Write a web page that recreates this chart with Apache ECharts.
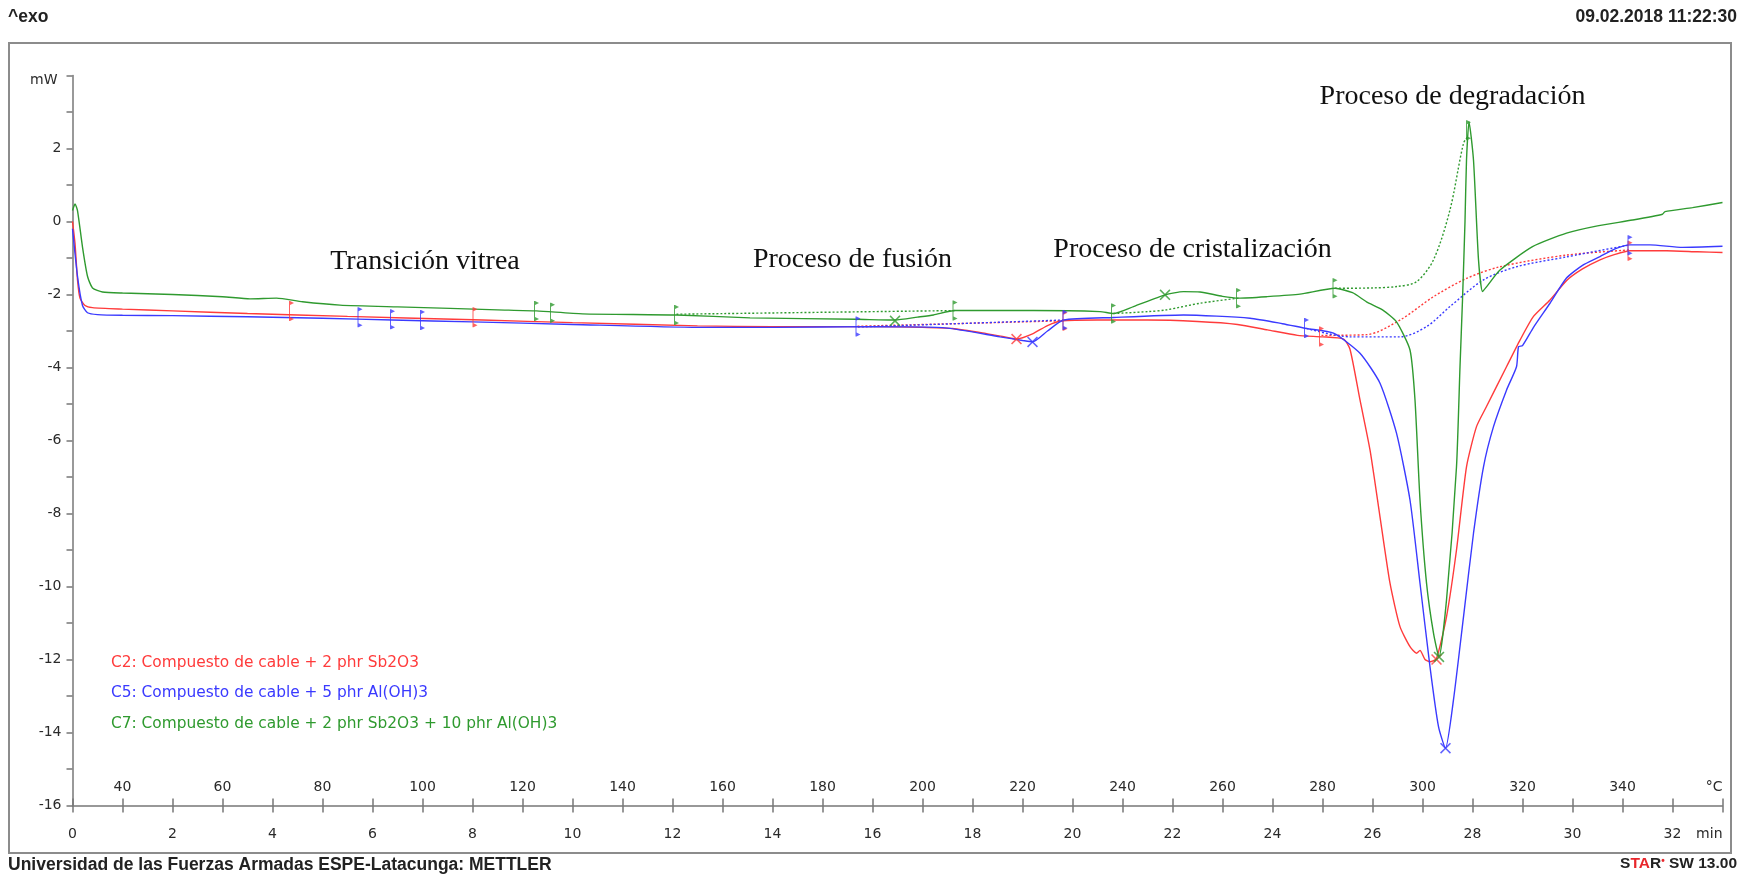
<!DOCTYPE html>
<html>
<head>
<meta charset="utf-8">
<script src="https://cdn.jsdelivr.net/npm/echarts@6/dist/echarts.min.js"></script>
<style>html,body{margin:0;padding:0;background:#fff;}#chart{width:1749px;height:879px;}</style>
</head>
<body>
<div id="chart"></div>
<script>
// ---- DATA (time in min, heat flow in mW) ----
const seriesNames = [
  'C2: Compuesto de cable + 2 phr Sb2O3',
  'C5: Compuesto de cable + 5 phr Al(OH)3',
  'C7: Compuesto de cable + 2 phr Sb2O3 + 10 phr Al(OH)3'
];
const c2Curve = [[0,0.0],[0.05,-0.6],[0.1,-1.6],[0.15,-2.1],[0.25,-2.3],[0.4,-2.36],[1,-2.4],[2,-2.45],[3.5,-2.52],[5.5,-2.6],[8.2,-2.7],[10,-2.77],[12.5,-2.86],[14,-2.88],[16,-2.88],[17,-2.9],[17.6,-2.93],[18.2,-3.05],[18.6,-3.15],[18.88,-3.22],[19.2,-3.08],[19.5,-2.85],[19.8,-2.72],[20.5,-2.7],[21.5,-2.7],[22.5,-2.74],[23.3,-2.82],[23.9,-2.97],[24.5,-3.12],[25,-3.16],[25.42,-3.22],[25.55,-3.5],[25.75,-4.89],[25.95,-6.26],[26.15,-8.09],[26.35,-9.91],[26.55,-11.1],[26.75,-11.65],[26.88,-11.83],[26.95,-11.75],[27.05,-12.0],[27.15,-12.06],[27.28,-11.97],[27.48,-10.83],[27.68,-9.0],[27.88,-6.72],[28.08,-5.62],[28.28,-5.07],[28.68,-3.98],[28.95,-3.25],[29.22,-2.6],[29.55,-2.15],[29.88,-1.62],[30.2,-1.3],[30.55,-1.05],[30.85,-0.9],[31.15,-0.8],[31.88,-0.8],[32.5,-0.83],[33,-0.85]];
const c5Curve = [[0,-0.2],[0.1,-1.5],[0.2,-2.3],[0.3,-2.5],[0.5,-2.55],[1,-2.57],[2,-2.58],[3.5,-2.61],[5,-2.65],[6.4,-2.7],[8,-2.75],[10,-2.82],[12.5,-2.9],[14,-2.9],[16,-2.88],[17.5,-2.92],[18.55,-3.16],[19.0,-3.26],[19.2,-3.3],[19.5,-3.0],[19.82,-2.7],[20.82,-2.63],[22.22,-2.56],[23.55,-2.65],[24.2,-2.8],[24.68,-2.93],[25.22,-3.06],[25.75,-3.61],[26.15,-4.43],[26.48,-5.8],[26.75,-7.63],[26.95,-9.91],[27.15,-12.2],[27.32,-13.84],[27.46,-14.43],[27.62,-13.1],[27.82,-10.83],[28.02,-8.54],[28.22,-6.72],[28.42,-5.62],[28.68,-4.62],[28.88,-3.98],[28.92,-3.43],[29.0,-3.4],[29.22,-2.9],[29.55,-2.24],[29.88,-1.55],[30.2,-1.2],[30.55,-0.96],[30.85,-0.75],[31.15,-0.64],[31.55,-0.64],[32.2,-0.71],[33,-0.68]];
const c7Curve = [[0,0.3],[0.05,0.48],[0.1,0.3],[0.2,-0.7],[0.3,-1.5],[0.4,-1.82],[0.6,-1.93],[1,-1.96],[2,-2.0],[3,-2.06],[3.55,-2.12],[4.08,-2.1],[4.6,-2.2],[5.35,-2.29],[6.5,-2.34],[7.55,-2.38],[8.5,-2.42],[9.28,-2.45],[10.2,-2.53],[12.08,-2.56],[13.55,-2.64],[15.68,-2.68],[16.45,-2.7],[16.9,-2.62],[17.22,-2.56],[17.65,-2.44],[19.22,-2.44],[20.55,-2.47],[20.82,-2.52],[21.22,-2.33],[21.85,-2.01],[22.22,-1.92],[22.55,-1.93],[23.0,-2.05],[23.32,-2.1],[23.88,-2.06],[24.55,-1.99],[25.25,-1.83],[25.6,-1.95],[25.88,-2.2],[26.2,-2.42],[26.48,-2.75],[26.75,-3.52],[26.85,-4.89],[26.95,-7.63],[27.08,-9.9],[27.22,-11.28],[27.33,-11.93],[27.48,-10.37],[27.68,-6.72],[27.75,-3.98],[27.8,-2.15],[27.85,0.0],[27.88,1.68],[27.93,2.73],[28.02,1.68],[28.12,-1.05],[28.2,-1.92],[28.28,-1.79],[28.55,-1.33],[29.2,-0.69],[29.88,-0.32],[30.5,-0.12],[31.2,0.04],[31.8,0.2],[31.85,0.27],[32.4,0.38],[33,0.52]];
// integration baselines (dotted)
const c2Baselines = [
  [[15.7,-2.87],[19.82,-2.72]],
  [[24.98,-3.12],[25.88,-3.1],[26.55,-2.7],[27.22,-2.06],[27.88,-1.56],[28.55,-1.24],[29.88,-0.92],[31.15,-0.78]]
];
const c5Baselines = [
  [[15.71,-2.89],[19.82,-2.7]],
  [[24.68,-2.93],[25.55,-3.16],[26.55,-3.16],[27.08,-2.88],[27.55,-2.33],[28.22,-1.6],[28.88,-1.24],[29.88,-0.97],[31.15,-0.64]]
];
const c7Baselines = [
  [[12.08,-2.54],[17.65,-2.44]],
  [[20.82,-2.52],[21.5,-2.47],[21.88,-2.42],[22.55,-2.24],[23.32,-2.1]],
  [[25.25,-1.83],[26.0,-1.82],[26.5,-1.78],[26.88,-1.65],[27.22,-1.05],[27.55,0.32],[27.82,2.14],[27.92,2.35]]
];
// evaluation limit flags and peak crosses
const c2Flags = [[4.38,-2.45],[8.05,-2.62],[19.85,-2.72],[24.98,-3.15],[31.15,-0.8]];
const c5Flags = [[5.75,-2.62],[6.4,-2.68],[7.0,-2.7],[15.71,-2.88],[19.85,-2.7],[24.68,-2.92],[31.15,-0.65]];
const c7Flags = [[9.28,-2.45],[9.6,-2.5],[12.08,-2.56],[17.65,-2.44],[20.82,-2.52],[23.32,-2.1],[25.25,-1.83],[27.92,2.5]];
const c2Peaks = [[18.88,-3.22],[27.28,-12.0]];
const c5Peaks = [[19.2,-3.3],[27.46,-14.43]];
const c7Peaks = [[16.45,-2.72],[21.85,-2.01],[27.33,-11.93]];
// tick labels
const minTickLabels = [0,2,4,6,8,10,12,14,16,18,20,22,24,26,28,30,32];
const tempTickMinutes = [1,3,5,7,9,11,13,15,17,19,21,23,25,27,29,31];
const tempTickLabels = [40,60,80,100,120,140,160,180,200,220,240,260,280,300,320,340];
const annotations = [
  {text:'Transición vitrea', t:7.05, v:-1.09},
  {text:'Proceso de fusión', t:15.6, v:-1.04},
  {text:'Proceso de cristalización', t:22.4, v:-0.77},
  {text:'Proceso de degradación', t:27.6, v:3.43}
];

const colors = ['#ff3b3b', '#3a3aff', '#2f9a2f'];
const tempMap = {};
tempTickMinutes.forEach((m,i)=>{ tempMap[m] = tempTickLabels[i]; });

const chart = echarts.init(document.getElementById('chart'), null, {renderer:'canvas'});
const axisFont = {fontFamily:'DejaVu Sans', fontSize:14, color:'#2a2a2a'};
const flagSym = 'path://M0,0 L1,0 L1,20 L0,20 Z M1,0 L5,2 L1,4 Z M1,16 L5,18 L1,20 Z';
const crossSym = 'path://M0,1 L1,0 L5,4 L9,0 L10,1 L6,5 L10,9 L9,10 L5,6 L1,10 L0,9 L4,5 Z';

const series = [];
const curves = [c2Curve, c5Curve, c7Curve];
const bases = [c2Baselines, c5Baselines, c7Baselines];
const flags = [c2Flags, c5Flags, c7Flags];
const peaks = [c2Peaks, c5Peaks, c7Peaks];
for (let i=0;i<3;i++){
  series.push({type:'line', name:seriesNames[i], data:curves[i], showSymbol:false, smooth:0.2,
    lineStyle:{color:colors[i], width:1.4}, z:3});
  bases[i].forEach(b=>series.push({type:'line', data:b, showSymbol:false, smooth:0.3,
    lineStyle:{color:colors[i], width:1.4, type:[2,2]}, z:2}));
  series.push({type:'scatter', data:flags[i], symbol:flagSym, symbolSize:[5,20],
    itemStyle:{color:colors[i]}, z:4});
  series.push({type:'scatter', data:peaks[i], symbol:crossSym, symbolSize:11,
    itemStyle:{color:colors[i]}, z:4});
}

const option = {
  animation:false,
  backgroundColor:'#fff',
  grid:{left:72.5, right:26.5, top:75.5, bottom:73.5, containLabel:false},
  xAxis:[
    {type:'value', min:0, max:33, interval:1, position:'bottom',
      axisLine:{show:true, onZero:false, lineStyle:{color:'#777', width:1.5}},
      axisTick:{show:true, length:7, lineStyle:{color:'#777', width:1.5}},
      splitLine:{show:false},
      axisLabel:Object.assign({margin:22, showMinLabel:true, showMaxLabel:true, alignMaxLabel:'right',
        formatter:v=> v===33 ? 'min' : (minTickLabels.indexOf(v)>=0 ? String(v) : '')}, axisFont)},
    {type:'value', min:0, max:33, interval:1, position:'bottom',
      axisLine:{show:false, onZero:false},
      axisTick:{show:true, inside:true, length:7, lineStyle:{color:'#777', width:1.5}},
      splitLine:{show:false},
      axisLabel:Object.assign({inside:true, margin:11, showMinLabel:true, showMaxLabel:true, alignMaxLabel:'right',
        formatter:v=> v===33 ? '°C' : (tempMap[v]!==undefined ? String(tempMap[v]) : '')}, axisFont)}
  ],
  yAxis:{type:'value', min:-16, max:4, interval:1,
    axisLine:{show:true, onZero:false, lineStyle:{color:'#777', width:1.5}},
    axisTick:{show:true, length:6, lineStyle:{color:'#777', width:1.5}},
    splitLine:{show:false},
    axisLabel:Object.assign({margin:11, showMinLabel:true, showMaxLabel:true,
      formatter:v=> v===4 ? '{u|mW}' : (v%2===0 ? String(v) : ''),
      rich:{u:{fontFamily:'DejaVu Sans', fontSize:14, color:'#2a2a2a', padding:[9,4,0,0]}}}, axisFont)},
  series: series
};
chart.setOption(option);

const g = [
  {type:'rect', shape:{x:9, y:43, width:1722, height:810}, style:{fill:'none', stroke:'#8c8c8c', lineWidth:2}, z:0},
  {type:'text', x:8, y:8, style:{text:'^exo', font:'bold 17.5px "Liberation Sans"', fill:'#222'}},
  {type:'text', x:1737, y:8, style:{text:'09.02.2018 11:22:30', font:'bold 17.5px "Liberation Sans"', fill:'#222', textAlign:'right'}},
  {type:'text', x:8, y:856, style:{text:'Universidad de las Fuerzas Armadas ESPE-Latacunga: METTLER', font:'bold 17.5px "Liberation Sans"', fill:'#222'}},
  {type:'text', x:1737, y:856, style:{text:'{b|S}{r|TA}{b|R}{d|•}{b| SW 13.00}', textAlign:'right',
    rich:{b:{font:'bold 15.5px "Liberation Sans"', fill:'#222'}, r:{font:'bold 15.5px "Liberation Sans"', fill:'#e8262b'}, d:{font:'bold 10px "Liberation Sans"', fill:'#e8262b', verticalAlign:'top'}}}}
];
seriesNames.forEach((n,i)=>{
  g.push({type:'text', x:111, y:655+i*30.5, style:{text:n, font:'15.4px "DejaVu Sans"', fill:colors[i]}});
});
annotations.forEach(a=>{
  const p = chart.convertToPixel({gridIndex:0}, [a.t, a.v]);
  g.push({type:'text', x:p[0], y:p[1], style:{text:a.text, font:'28px "Liberation Serif"', fill:'#111', textAlign:'center', textVerticalAlign:'middle'}});
});
chart.setOption({graphic:{elements:g}});
</script>
</body>
</html>
